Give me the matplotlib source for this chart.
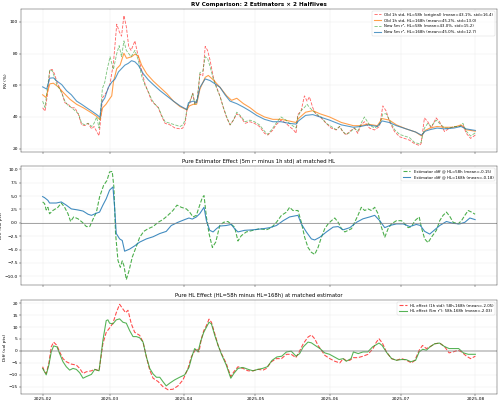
import matplotlib

matplotlib.use("Agg")
import matplotlib.dates as mdates
import matplotlib.pyplot as plt
import pandas as pd

START = pd.Timestamp("2025-02-01")

# ---- panel 1: RV series (day offset from 2025-02-01, RV in %) ----
old58_days = [0, 1, 2, 3, 4, 5, 6, 7, 8, 9.3, 10.7, 12, 13.5, 15, 16.3, 17.7, 19, 20.5, 21.5, 22.6,
              23.6, 24.3, 25, 26, 27, 28.2, 29.6, 31, 32, 33, 34, 35, 36, 37, 38.6, 40, 41.4, 42.8, 44.2, 45.6,
              47, 48.4, 49.8, 51.2, 53.3, 55.4, 57.5, 58.6, 59.6, 60.5, 61.6, 62.8, 63.7, 64.7, 65.8, 67, 68, 69, 70, 71.4,
              72.8, 74.2, 75.6, 77, 78.4, 79.8, 81.2, 82.6, 84.7, 86.7,
              88.6, 90.7, 92.8, 94.2, 96.3, 97.6, 99.7, 101.8, 103.2, 105, 106, 106.7, 108.1, 109.5, 110.6, 111.6,
              113, 114.4, 116.5, 118.6, 120.7, 122.8, 124.2, 125.5, 126.9, 128.3, 130.4, 131.8, 133.2, 134.6,
              136.7, 138.8, 140.9, 142.3, 143.7, 145.1, 147.2, 149.3, 151.3, 153.4, 155.5, 157.6, 158.3, 159.7,
              161.1, 162.5, 164.6, 166, 168.1, 170.2, 172.3, 174.4, 175.8, 177.2, 179, 181]
old58 = [45.8, 43.7, 54, 69.5, 70, 67, 62, 58.7, 55.5, 49, 48, 45.8, 45.8, 41.5, 35, 34.6, 36, 32.5, 34, 30.8,
         28.2, 39, 52, 54, 56.5, 61, 73.8, 98.5, 94, 91, 104, 97, 84.5, 82, 88, 78, 69.5, 61, 55.5, 50,
         48, 45.8, 40.4, 36, 35, 33, 32.5, 33, 36, 45.8, 49, 54.8, 48, 51, 67, 66, 84.5, 82, 76, 65,
         58.7, 53, 45.8, 39.4, 35, 38, 42, 40.4, 36, 37,
         36, 34, 29.7, 28.6, 31.8, 35, 38, 36, 34, 31.8, 29.7, 41.5, 43.7, 53.3, 50, 52.7,
         45.8, 41.5, 39.4, 36, 33, 31.8, 34, 30.8, 28.6, 30.8, 33, 29.7, 35, 37,
         33, 31.8, 34, 47, 43.7, 37, 30.8, 27.5, 26.5, 25.4, 23.2, 22, 23.2, 39.4,
         37, 33, 39.4, 37, 30.8, 33, 34, 34, 35, 29.7, 26.5, 28.6]
new58 = [50, 46, 58, 70, 69, 65, 60, 58, 55, 50, 47, 46, 44, 42, 36, 35, 36, 34, 36, 40,
         33, 45, 58, 62, 70, 78, 70, 80, 85, 78, 88, 82, 80, 78, 82, 76, 66, 60, 56, 51,
         48, 46, 41, 37, 36, 35, 34, 35, 38, 46, 50, 55, 48, 52, 68, 69, 78, 77, 72, 64,
         58, 53, 46, 40, 35, 38, 43, 41, 37, 38,
         37, 35, 31, 29, 33, 36, 40, 38, 36, 34, 33, 40, 44, 46, 48, 46,
         44, 42, 40, 36, 34, 32, 34, 31, 29, 30, 33, 31, 36, 40,
         35, 33, 35, 42, 42, 38, 32, 29, 28, 27, 24, 23, 24, 33,
         36, 34, 38, 36, 33, 33, 34, 34, 36, 31, 28, 30]

old168_days = [0, 1.4, 3, 4.5, 6.5, 8.6, 11.4, 14.2, 17, 19.8, 22.6, 24, 25.1, 26.5, 27.9, 28.9, 29.6, 31, 32.4, 34,
               35.1, 37.2, 38.6, 40, 41.4, 43.5, 46.3, 49.1, 51.9, 54.7, 57.5, 60.3, 61.4, 63, 64.4, 65.8, 68, 69.3,
               71.4, 74.2, 77, 79, 81.2, 84, 86.8, 89.5,
               92.8, 96.3, 99.7, 103, 106, 107, 110, 113, 116, 120, 125, 130, 133, 136, 140, 142, 145, 148,
               152, 156, 158.5, 160, 162, 165, 168, 172, 175, 177, 181]
old168 = [54, 52.3, 60.9, 61.3, 59, 55.5, 51.2, 48, 45.8, 43.2, 40.4, 38.3, 45.8, 48, 51.2, 53.3, 62, 70.5, 72.7, 80.2,
          77, 78, 79.6, 78.5, 72.7, 67.3, 62.6, 58.7, 54.8, 50, 46.5, 44.5, 47, 48, 48, 57.6, 65, 66.2,
          63.4, 58.7, 53.3, 50.5, 51.8, 48.4, 45.8, 42.6,
          40, 38.5, 38.5, 37.5, 36.5, 39, 43, 44, 42, 40, 36.5, 34.5, 34.5, 35.5, 34.5, 39, 38, 35,
          32.5, 30.5, 28, 31.5, 33, 34, 33.5, 33.5, 35, 32, 31]

new168_days = [0, 1.7, 3, 4.5, 6, 8, 10, 12, 14.2, 16.3, 18.4, 20.5, 22.6, 24, 24.7, 26, 27.5, 28.9, 30.3, 31.7,
               33, 34.4, 35.8, 37.2, 38.6, 40, 42.1, 44.2, 46.3, 49.1, 51.9, 54.7, 57.5, 60.3, 61, 63, 64.4, 65.8,
               68, 70, 72.1, 74.2, 76.3, 78.4, 81.2, 84, 86.8, 89.5,
               92.8, 96.3, 99.7, 103, 106, 107, 110, 113, 116, 120, 125, 130, 133, 136, 140, 142, 145, 148,
               152, 156, 158.5, 160, 162, 165, 168, 172, 175, 177, 181]
new168 = [59, 57.6, 64.5, 64.7, 62.6, 60.4, 56.6, 54, 50, 48, 45.8, 43.7, 41.5, 39.8, 49, 52, 58.7, 62, 64, 68.4,
          70.5, 72.7, 73.8, 75.5, 74.8, 72.7, 67.3, 63.4, 60.4, 56.6, 53.3, 50, 47, 44.7, 49, 50, 49, 58.7,
          64, 63, 60.9, 58.7, 54, 50, 48.4, 46.2, 43.7, 41,
          38.5, 37, 37, 36, 35.5, 37.5, 41, 41.5, 40, 38, 35, 33.5, 34, 35, 34, 37.5, 36.5, 34.5,
          32.5, 30.5, 28.5, 31, 32, 33, 32.5, 33, 34, 32.5, 31.5]

# ---- panel 2: estimator difference (vol pts) ----
est58_days = [0, 0.8, 1.5, 2.2, 2.9, 4.3, 6.4, 7.8, 9.2, 10.6, 11.7, 13, 14.8, 16.6, 18.3, 19.7, 21, 22.5, 23.8, 25.5,
              26.9, 28, 29.1, 29.8, 30.5, 31.5, 32.5, 33.3, 34, 35, 36.1, 37.5, 39.2, 40.6, 42.3, 44.1, 46.2, 48.3,
              50.3, 52.4, 54.5, 56.2, 58, 60.1, 61.5, 62.9, 64.3, 65.4, 66.7, 67.5, 68.5, 69.6, 71, 72.4, 74.1,
              75.7, 77.5, 78.9, 80.3, 81.7, 83.1, 85.2, 88, 90.8, 93.6, 95.7, 97.8, 99.9, 102, 103.3, 104.7,
              106.8, 108.2, 109.6, 111, 112.4, 113.8, 115.2, 116.6, 118, 119.4, 120.8, 122.2, 123.6, 125, 126.4,
              127.8, 129.2, 130.5, 131.9, 133.3, 134.7, 136.1, 137.5, 138.9, 140.3, 141.7, 143.1, 144.5, 145.9,
              148, 150.1, 151.5, 152.9, 154.3, 155.7, 157.5, 158.4, 159.8, 161.2, 162.6, 164.7, 166.1, 167.5,
              168.9, 170.3, 171.7, 173.8, 175.2, 176.6, 178, 179.4, 180.9]
est58 = [3.9, 3.6, 2.4, 2.9, 1.7, 2.3, 2.9, 3.7, 2.9, 1.7, 0.25, 1.1, 0.75, 0.1, -0.7, -0.7, 0.6, 2.0, 4.8, 7.0,
         7.9, 9.5, 9.6, 6.7, -2.0, -7.0, -8.3, -7.1, -8.0, -10.6, -9.0, -6.4, -4.4, -2.7, -1.6, -1.1, -0.7, 0.1,
         0.6, 1.4, 2.3, 3.3, 2.9, 2.6, 2.0, 1.1, 1.4, 2.9, 4.6, 5.1, 1.1, -2.0, -4.6, -3.6, -0.5,
         0.1, 0.25, -0.3, -0.8, -3.4, -2.4, -1.7, -1.4, -1.1, -1.3, -0.9, 0.1, 1.4, 2.0, 2.9, 2.3,
         2.3, 0.1, -2.7, -4.6, -5.5, -5.9, -4.6, -2.7, -1.1, -0.2, 0.4, 0.9, 0.1, -1.1, -1.7,
         -1.4, -1.1, 0.1, 1.4, 2.9, 2.3, 2.6, 2.3, 2.9, 1.7, -0.8, -2.7, -1.1, -0.2,
         0.4, 0.4, -0.2, -0.9, -0.7, 0.4, 1.1, -0.8, -3.0, -3.7, -2.7, -1.4, 0.4, 1.4,
         2.0, 1.2, 0.1, -0.2, 0.4, 1.4, 2.3, 2.0, 1.6]

est168_days = [0, 0.8, 2.2, 2.9, 5.7, 7.8, 9.9, 12, 14.8, 16.9, 19, 20.4, 22.5, 23.8, 25.2, 26.6, 28, 29.4, 30.1,
               30.8, 32.2, 33.3, 34.3, 36.4, 38.5, 40.6, 43.4, 46.2, 49, 51.7, 53.8, 56.6, 59.4, 61.2, 62.6, 64.3,
               65.7, 67.5, 68.5, 69.9, 71.3, 72.7, 74.1, 76.8, 78.9, 80.3, 81.7, 84.5, 88, 92.2, 95, 97.8, 100.6,
               103.3, 106.8, 108.2, 110.3, 112.4, 113.8, 115.9, 118.7, 121.5, 123.6, 125.7, 128.5, 131.3, 134,
               136.8, 138.9, 141, 143.1, 145.2, 148, 150.8, 153.6, 156.3, 158, 159.8, 161.9, 164, 166.1, 168.9,
               171.7, 174.5, 176.6, 178.7, 180.9]
est168 = [4.9, 4.7, 4.2, 3.7, 3.7, 3.9, 3.3, 2.6, 2.4, 2.2, 1.6, 1.4, 1.8, 2.0, 3.3, 4.5, 6.1, 6.7, 2.9,
          -2.0, -3.0, -3.3, -5.3, -4.9, -4.3, -3.6, -3.0, -2.6, -2.0, -1.6, -0.5, 0.1, 0.6, 0.9, 0.7, 1.1,
          1.7, 2.9, 0.4, -1.4, -1.7, -1.1, -0.6, -0.5, -0.3, -1.1, -1.7, -1.4, -1.3, -1.1, -0.9, -0.5, 0.4,
          1.1, 1.4, -0.2, -1.7, -3.0, -3.2, -2.7, -1.7, -0.8, -0.7, -1.3, -0.9, 0.1, 0.75,
          1.1, 1.4, 0.4, -0.9, -0.5, -0.2, -0.2, -0.7, -0.3, -0.5, -1.6, -2.1, -1.3, -0.5, 0.25,
          -0.1, -0.2, 0.1, 0.9, 0.6]

# ---- panel 3: halflife effect (vol pts) ----
hl_old_days = [0, 0.8, 1.5, 2.6, 3.6, 4.6, 6, 7.1, 8.5, 9.9, 12, 14.1, 15.5, 16.9, 18.3, 20.4, 21.8, 23.6, 25.2,
               26.6, 28, 29.4, 30.8, 32.2, 33.6, 34.7, 35.7, 37.1, 38.5, 40.6, 42, 43.4, 44.8, 46.2, 48.3, 50.3,
               52.4, 54.5, 56.6, 58.7, 60.8, 62.2, 63.6, 64.3, 65.4, 66.4, 67.4, 68.5, 69.6, 70.6, 72, 73.4,
               74.8, 76.8, 78.7, 80, 81.7, 83.8, 85.9, 88, 90.1, 92.2, 93.6, 95.7, 97.8, 99.9, 102, 104, 105.9,
               107.3, 109, 111, 112.4, 113.8, 115.2, 116.6, 118, 120.1, 122.2, 124.3, 125.7, 127.1, 128.5, 129.9,
               131.9, 134, 136.1, 138.2, 139.6, 140.7, 142.1, 143.8, 145.9, 148, 150.1, 152.2, 154.3, 155.7,
               157.5, 158.9, 160.5, 161.9, 164, 166.1, 168.2, 170, 171.7, 173.8, 175.2, 177.3, 179, 181]
hl_old = [-6.6, -8.7, -9.4, -5.2, 1.7, 3.7, 2.3, -0.4, -3.2, -4.5, -5.5, -5.9, -7.3, -9.4, -8.7, -8.3, -7.7, -8.3, 3.0,
          7.8, 9.6, 11.6, 16.0, 19.5, 17.5, 16.0, 17.0, 11.3, 7.8, 6.5, 3.7, -2.5, -8.0, -11.4, -12.8, -14.9,
          -16.2, -16.0, -14.6, -12.1, -7.3, -2.5, 0.0, 1.0, -0.4, 5.1, 8.5, 10.6, 13.3, 12.0, 7.2, 2.3,
          -1.1, -5.2, -10.7, -8.7, -6.6, -7.3, -8.3, -8.3, -7.7, -8.0, -7.3, -4.5, -3.2, -3.2, -1.4, -1.4, -2.8,
          -0.4, 3.0, 5.8, 6.7, 5.1, 2.3, 0.3, -1.8, -3.2, -4.3, -5.0, -3.2, -4.1, -3.9, -2.8,
          -2.8, -2.2, -1.4, 1.0, 3.7, 5.1, 3.3, -0.4, -3.2, -3.9, -3.2, -3.9, -5.0, -3.9,
          0.3, 2.3, 1.0, 1.7, 3.0, 3.3, 1.7, -0.8, -0.4, 0.3, -0.4, -2.2, -3.2, -2.2]

hl_new_days = [0, 0.8, 1.5, 2.6, 3.6, 4.6, 6, 7.1, 8.5, 9.9, 11.3, 12.7, 14.1, 15.5, 16.9, 18.3, 20.4, 21.8, 23.6,
               25.2, 26.6, 27.3, 28, 29.4, 30.8, 32.2, 33.6, 35, 36.4, 37.8, 39.2, 40.6, 42, 43.4, 44.8, 46.2,
               47.6, 49, 50.3, 51.7, 53.1, 55.2, 57.3, 59.4, 61.2, 62.6, 63.6, 65, 66, 67.4, 68.5, 69.6, 70.6,
               72, 73.4, 74.8, 76.8, 78.7, 80, 81.7, 83.8, 86, 88, 90, 92, 94, 96, 98, 100, 102, 104, 106,
               107.5, 109, 111, 112.4, 114, 116, 118, 120, 122, 124, 125.7, 127, 129, 130, 132, 134, 136, 138,
               140.7, 142, 144, 146, 148, 150, 152, 154, 156, 157.5, 159, 160.5, 162, 164, 166, 168, 170, 172,
               174, 176, 178, 181]
hl_new = [-7.3, -8.7, -10.0, -5.9, -0.4, 2.1, 1.7, -1.1, -4.5, -6.6, -8.0, -7.3, -7.7, -9.1, -11.4, -10.7, -9.8, -7.7, -8.3,
          4.4, 12.7, 13.0, 11.6, 11.3, 13.0, 13.4, 12.0, 11.6, 8.5, 6.0, 6.0, 5.5, 3.7, -2.5, -7.3, -9.6,
          -11.0, -11.0, -12.8, -14.6, -13.5, -12.1, -11.0, -10.0, -6.9, -1.8, 1.0, -0.4, 3.7, 7.8, 9.9, 12.0, 11.3,
          6.5, 2.3, -1.4, -5.9, -11.4, -9.4, -7.3, -6.9, -7.7, -8.3, -7.7, -7.3, -6.6, -3.9, -2.5, -2.2, -0.4, -0.1, -2.2,
          -1.1, 1.7, 3.7, 3.4, 2.3, 1.0, -0.8, -1.4, -2.5, -3.6, -3.2, -4.3, -3.2, -0.4, -1.1, -0.4, -0.4, 1.7,
          3.3, 2.3, -0.8, -3.2, -3.9, -3.6, -3.6, -4.5, -3.9, -0.4, 0.7, 0.3, 1.7, 3.0, 3.3, 1.9, 1.0, 1.0,
          1.0, -0.8, -1.4, -1.4]

LABELS_RV = [
    "Old 1h std, HL=58h (original) (mean=43.1%, std=16.4)",
    "Old 1h std, HL=168h (mean=45.2%, std=13.0)",
    "New 5m r\u00b2, HL=58h (mean=43.0%, std=15.2)",
    "New 5m r\u00b2, HL=168h (mean=45.0%, std=12.7)",
]
LABELS_EST = ["Estimator diff @ HL=58h (mean=-0.15)", "Estimator diff @ HL=168h (mean=-0.18)"]
LABELS_HL = ["HL effect (1h std): 58h-168h (mean=-2.05)", "HL effect (5m r\u00b2): 58h-168h (mean=-2.03)"]


def to_dates(days):
    return START + pd.to_timedelta(days, unit="D")


fig = plt.figure(figsize=(16, 12.96), dpi=31.25)
ax1 = fig.add_axes([0.042, 0.6247, 0.952, 0.353])
ax2 = fig.add_axes([0.042, 0.2963, 0.952, 0.2938], sharex=ax1)
ax3 = fig.add_axes([0.042, 0.0272, 0.952, 0.232], sharex=ax1)

ax1.plot(to_dates(old58_days), old58, "--", color="red", alpha=0.6, lw=2, label=LABELS_RV[0])
ax1.plot(to_dates(old168_days), old168, "-", color="tab:orange", alpha=0.75, lw=2.5, label=LABELS_RV[1])
ax1.plot(to_dates(old58_days), new58, "--", color="tab:green", alpha=0.6, lw=2, label=LABELS_RV[2])
ax1.plot(to_dates(new168_days), new168, "-", color="tab:blue", alpha=0.75, lw=2.5, label=LABELS_RV[3])
ax1.set_ylabel("RV (%)")
ax1.set_title("RV Comparison: 2 Estimators \u00d7 2 Halflives", fontsize=13, fontweight="bold")
ax1.legend(loc="upper right", fontsize=9)
ax1.grid(True, alpha=0.3)

ax2.plot(to_dates(est58_days), est58, "--", color="tab:green", alpha=0.85, lw=2.5, label=LABELS_EST[0])
ax2.plot(to_dates(est168_days), est168, "-", color="tab:blue", alpha=0.85, lw=2.5, label=LABELS_EST[1])
ax2.axhline(0, color="gray", lw=2, alpha=0.8)
ax2.set_ylabel("Diff (vol pts)")
ax2.set_title("Pure Estimator Effect (5m r\u00b2 minus 1h std) at matched HL", fontsize=12)
ax2.legend(loc="upper right", fontsize=9)
ax2.grid(True, alpha=0.3)

ax3.plot(to_dates(hl_old_days), hl_old, "--", color="red", alpha=0.7, lw=2.5, label=LABELS_HL[0])
ax3.plot(to_dates(hl_new_days), hl_new, "-", color="tab:green", alpha=0.8, lw=2.5, label=LABELS_HL[1])
ax3.axhline(0, color="gray", lw=3.5, alpha=0.5)
ax3.set_ylabel("Diff (vol pts)")
ax3.set_title("Pure HL Effect (HL=58h minus HL=168h) at matched estimator", fontsize=12)
ax3.legend(loc="upper right", fontsize=9)
ax3.grid(True, alpha=0.3)

ax3.xaxis.set_major_locator(mdates.MonthLocator())
ax3.xaxis.set_major_formatter(mdates.DateFormatter("%Y-%m"))
plt.setp(ax1.get_xticklabels(), visible=False)
plt.setp(ax2.get_xticklabels(), visible=False)

fig.savefig("out.png", dpi=31.25)
